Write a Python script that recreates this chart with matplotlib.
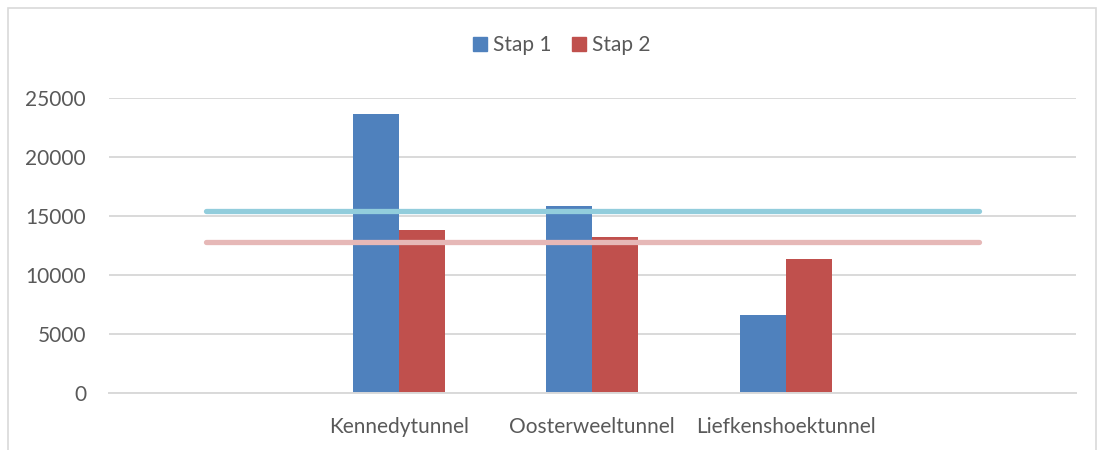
import matplotlib

matplotlib.use("Agg")
import matplotlib.pyplot as plt
from matplotlib.patches import Patch, Rectangle

# --- data ---
categories = ["", "Kennedytunnel", "Oosterweeltunnel", "Liefkenshoektunnel", ""]
stap1 = [None, 23700, 15900, 6600, None]
stap2 = [None, 13800, 13250, 11400, None]
avg_stap1 = 15450
avg_stap2 = 12850
y_ticks = [0, 5000, 10000, 15000, 20000, 25000]

# --- style ---
BLUE = "#4F81BD"
RED = "#C0504D"
LINE_BLUE = "#92CDDC"
LINE_PINK = "#E6B8B7"
GRID = "#D9D9D9"
TEXT = "#595959"
FS = 15
plt.rcParams["font.family"] = ["Lato", "DejaVu Sans"]

fig = plt.figure(figsize=(11, 4.5), dpi=100)
fig.patches.append(Rectangle((8 / 1100, -0.05), 1088 / 1100, 1 - 8 / 450 + 0.05,
                             transform=fig.transFigure, fill=False,
                             edgecolor=GRID, lw=1.2))

ax = fig.add_axes([109 / 1100, 1 - 393 / 450, (1075.7 - 109) / 1100, (393 - 98.3) / 450])

xs = list(range(len(categories)))
idx = [i for i in xs if stap1[i] is not None]
w = 0.238
ax.bar([i - w / 2 for i in idx], [stap1[i] for i in idx], width=w, color=BLUE, zorder=2)
ax.bar([i + w / 2 for i in idx], [stap2[i] for i in idx], width=w, color=RED, zorder=2)

# average lines across all category slots
ax.plot(xs, [avg_stap1] * len(xs), color=LINE_BLUE, lw=3.8,
        solid_capstyle="round", zorder=3)
ax.plot(xs, [avg_stap2] * len(xs), color=LINE_PINK, lw=3.8,
        solid_capstyle="round", zorder=3)

ax.set_xlim(-0.5, len(xs) - 0.5)
ax.set_xticks(xs)
ax.set_xticklabels(categories)
ax.set_ylim(0, 25000)
ax.set_yticks(y_ticks)
ax.yaxis.grid(True, color=GRID, lw=1.4, zorder=0)
ax.set_axisbelow(True)
for s in ["top", "right", "left"]:
    ax.spines[s].set_visible(False)
ax.spines["bottom"].set_color(GRID)
ax.spines["bottom"].set_linewidth(1.4)
ax.tick_params(axis="y", length=0, pad=16.5, labelsize=FS, labelcolor=TEXT)
ax.tick_params(axis="x", length=0, pad=17.5, labelsize=FS, labelcolor=TEXT)

handles = [Patch(color=BLUE, label="Stap 1"), Patch(color=RED, label="Stap 2")]
fig.legend(handles=handles, loc="center", bbox_to_anchor=(562 / 1100, 1 - 45 / 450),
           ncol=2, frameon=False, fontsize=FS, labelcolor=TEXT,
           handlelength=0.65, handleheight=0.65, handletextpad=0.3, columnspacing=1.0)

fig.savefig("out.png", dpi=100)
